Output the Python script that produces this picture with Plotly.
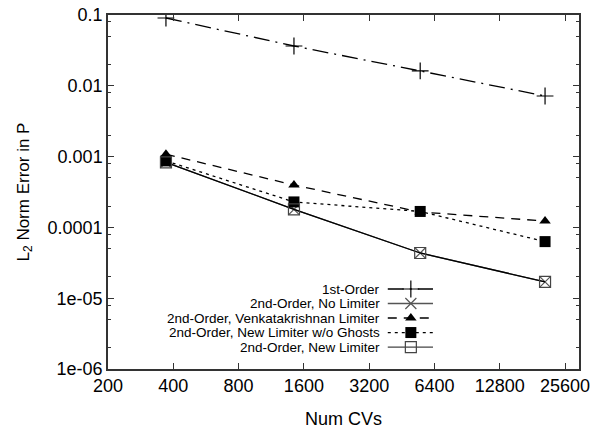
import plotly.graph_objects as go

# ---- data ----
num_cvs = [370, 1440, 5500, 20700]
first_order = [0.0907, 0.0365, 0.0162, 0.00718]
no_limiter = [0.00083, 0.00018, 0.0000435, 0.0000170]
venkat = [0.00108, 0.000397, 0.000165, 0.000123]
new_no_ghost = [0.00087, 0.000229, 0.000168, 0.0000630]
new_limiter = [0.00083, 0.00018, 0.0000435, 0.0000170]

x_ticks = [200, 400, 800, 1600, 3200, 6400, 12800, 25600]
y_ticks = [1e-6, 1e-5, 1e-4, 1e-3, 1e-2, 1e-1]
y_tick_text = ["1e-06", "1e-05", "0.0001", "0.001", "0.01", "0.1"]
legend_names = ["1st-Order", "2nd-Order, No Limiter", "2nd-Order, Venkatakrishnan Limiter",
                "2nd-Order, New Limiter w/o Ghosts", "2nd-Order, New Limiter"]

FONT = "Liberation Sans, Arial, sans-serif"

styles = [
    dict(y=first_order, dash="16px,6px,2px,6px", color="black", lcolor="black",
         symbol="cross-thin-open", size=12, mline=1.2),
    dict(y=no_limiter, dash="solid", color="#555555", lcolor="#555555",
         symbol="x-thin-open", size=11, mline=1.2),
    dict(y=venkat, dash="9px,7px", color="black", lcolor="black",
         symbol="triangle-up", size=10, mline=0),
    dict(y=new_no_ghost, dash="3px,4px", color="black", lcolor="black",
         symbol="square", size=11, mline=0),
    dict(y=new_limiter, dash="solid", color="#444444", lcolor="black",
         symbol="square-open", size=11, mline=1.2),
]

fig = go.Figure()
for s in styles:
    fig.add_trace(go.Scatter(
        x=num_cvs, y=s["y"], mode="lines+markers",
        line=dict(color=s["lcolor"], width=1.3, dash=s["dash"]),
        marker=dict(symbol=s["symbol"], size=s["size"], color=s["color"],
                    line=dict(color=s["color"], width=s["mline"])),
        showlegend=False, xaxis="x", yaxis="y"))

# ---- custom legend (text left, sample right) ----
row_y = [0.226, 0.185, 0.144, 0.103, 0.062]
lx0, lx1, lmx, ltx = 0.594, 0.690, 0.643, 0.580
for s, ry, name in zip(styles, row_y, legend_names):
    fig.add_trace(go.Scatter(
        x=[lx0, lx1], y=[ry, ry], mode="lines",
        line=dict(color=s["color"] if s["dash"] == "solid" else s["lcolor"], width=1.3,
                  dash=s["dash"]),
        showlegend=False, xaxis="x2", yaxis="y2", hoverinfo="skip"))
    fig.add_trace(go.Scatter(
        x=[lmx], y=[ry], mode="markers",
        marker=dict(symbol=s["symbol"], size=s["size"], color=s["color"],
                    line=dict(color=s["color"], width=s["mline"])),
        showlegend=False, xaxis="x2", yaxis="y2", hoverinfo="skip"))
    fig.add_annotation(x=ltx, y=ry, xref="x2", yref="y2", text=name, showarrow=False,
                       xanchor="right", yanchor="middle", borderpad=0,
                       font=dict(family=FONT, size=13.5, color="black"))

axis_common = dict(showline=True, linecolor="#333333", linewidth=1.5, mirror="ticks",
                   ticks="inside", tickcolor="#333333", ticklen=6, tickwidth=1,
                   showgrid=False, zeroline=False, automargin=False,
                   tickfont=dict(family=FONT, size=18, color="black"))

fig.update_layout(
    width=596, height=430,
    margin=dict(l=108, r=17, t=15, b=61),
    paper_bgcolor="white", plot_bgcolor="white",
    xaxis=dict(type="log", range=[2.30103, 4.4725], tickmode="array",
               tickvals=x_ticks, ticktext=[str(v) for v in x_ticks],
               title=dict(text="Num CVs", font=dict(family=FONT, size=18, color="black"),
                          standoff=17),
               **axis_common),
    yaxis=dict(type="log", range=[-6, -1], tickmode="array",
               tickvals=y_ticks, ticktext=y_tick_text,
               minor=dict(tickmode="array",
                          tickvals=[m * 10.0 ** e for e in range(-6, -1) for m in (2, 5, 8)],
                          ticks="inside", ticklen=3, tickcolor="#333333", showgrid=False),
               title=dict(text="L<sub>2</sub> Norm Error in P",
                          font=dict(family=FONT, size=17, color="black"), standoff=14),
               **axis_common),
    xaxis2=dict(overlaying="x", range=[0, 1], visible=False),
    yaxis2=dict(overlaying="y", range=[0, 1], visible=False),
)

fig.write_html("out.html")
